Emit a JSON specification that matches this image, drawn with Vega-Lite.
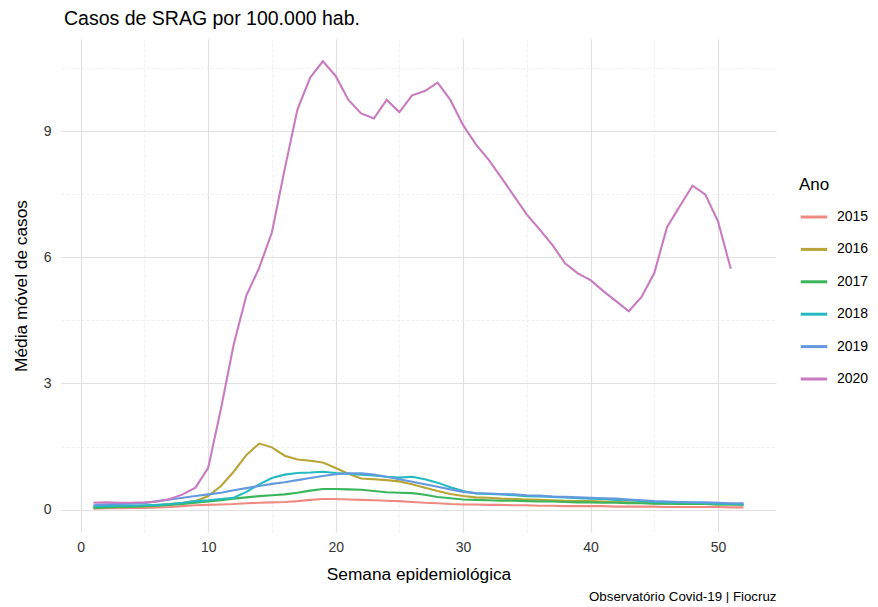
{
  "$schema": "https://vega.github.io/schema/vega-lite/v6.json",
  "width": 715,
  "height": 493,
  "padding": {"left": 12, "top": 8, "right": 5, "bottom": 0},
  "background": "white",
  "config": {
    "view": {"stroke": null},
    "font": "Liberation Sans"
  },
  "title": {
    "text": "Casos de SRAG por 100.000 hab.",
    "anchor": "start",
    "frame": "group",
    "dx": 3,
    "fontSize": 19.5,
    "fontWeight": "normal",
    "font": "Liberation Sans",
    "color": "#000000",
    "offset": 10
  },
  "data": {
    "values": [
      {"semana": 1, "2015": 0.02, "2016": 0.04, "2017": 0.04, "2018": 0.08, "2019": 0.10, "2020": 0.16},
      {"semana": 2, "2015": 0.03, "2016": 0.05, "2017": 0.05, "2018": 0.08, "2019": 0.12, "2020": 0.17},
      {"semana": 3, "2015": 0.03, "2016": 0.06, "2017": 0.06, "2018": 0.09, "2019": 0.13, "2020": 0.16},
      {"semana": 4, "2015": 0.04, "2016": 0.07, "2017": 0.07, "2018": 0.09, "2019": 0.14, "2020": 0.16},
      {"semana": 5, "2015": 0.04, "2016": 0.08, "2017": 0.08, "2018": 0.10, "2019": 0.15, "2020": 0.17},
      {"semana": 6, "2015": 0.05, "2016": 0.10, "2017": 0.09, "2018": 0.11, "2019": 0.20, "2020": 0.19},
      {"semana": 7, "2015": 0.06, "2016": 0.13, "2017": 0.11, "2018": 0.13, "2019": 0.24, "2020": 0.25},
      {"semana": 8, "2015": 0.08, "2016": 0.16, "2017": 0.13, "2018": 0.16, "2019": 0.28, "2020": 0.36},
      {"semana": 9, "2015": 0.10, "2016": 0.20, "2017": 0.16, "2018": 0.20, "2019": 0.32, "2020": 0.52},
      {"semana": 10, "2015": 0.11, "2016": 0.32, "2017": 0.19, "2018": 0.22, "2019": 0.36, "2020": 0.99},
      {"semana": 11, "2015": 0.12, "2016": 0.56, "2017": 0.22, "2018": 0.25, "2019": 0.40, "2020": 2.40},
      {"semana": 12, "2015": 0.13, "2016": 0.90, "2017": 0.26, "2018": 0.28, "2019": 0.46, "2020": 3.93},
      {"semana": 13, "2015": 0.15, "2016": 1.30, "2017": 0.29, "2018": 0.42, "2019": 0.51, "2020": 5.10},
      {"semana": 14, "2015": 0.16, "2016": 1.57, "2017": 0.32, "2018": 0.60, "2019": 0.56, "2020": 5.75},
      {"semana": 15, "2015": 0.17, "2016": 1.48, "2017": 0.34, "2018": 0.75, "2019": 0.61, "2020": 6.60},
      {"semana": 16, "2015": 0.18, "2016": 1.28, "2017": 0.36, "2018": 0.83, "2019": 0.65, "2020": 8.10},
      {"semana": 17, "2015": 0.20, "2016": 1.19, "2017": 0.40, "2018": 0.87, "2019": 0.70, "2020": 9.52},
      {"semana": 18, "2015": 0.23, "2016": 1.16, "2017": 0.45, "2018": 0.88, "2019": 0.75, "2020": 10.28},
      {"semana": 19, "2015": 0.25, "2016": 1.12, "2017": 0.49, "2018": 0.90, "2019": 0.80, "2020": 10.67},
      {"semana": 20, "2015": 0.25, "2016": 0.99, "2017": 0.49, "2018": 0.87, "2019": 0.84, "2020": 10.32},
      {"semana": 21, "2015": 0.24, "2016": 0.85, "2017": 0.48, "2018": 0.85, "2019": 0.86, "2020": 9.75},
      {"semana": 22, "2015": 0.23, "2016": 0.74, "2017": 0.47, "2018": 0.83, "2019": 0.86, "2020": 9.43},
      {"semana": 23, "2015": 0.22, "2016": 0.72, "2017": 0.44, "2018": 0.81, "2019": 0.83, "2020": 9.31},
      {"semana": 24, "2015": 0.21, "2016": 0.70, "2017": 0.41, "2018": 0.78, "2019": 0.78, "2020": 9.75},
      {"semana": 25, "2015": 0.20, "2016": 0.67, "2017": 0.40, "2018": 0.76, "2019": 0.72, "2020": 9.46},
      {"semana": 26, "2015": 0.18, "2016": 0.60, "2017": 0.39, "2018": 0.78, "2019": 0.66, "2020": 9.86},
      {"semana": 27, "2015": 0.16, "2016": 0.52, "2017": 0.35, "2018": 0.72, "2019": 0.60, "2020": 9.96},
      {"semana": 28, "2015": 0.15, "2016": 0.44, "2017": 0.30, "2018": 0.64, "2019": 0.54, "2020": 10.16},
      {"semana": 29, "2015": 0.13, "2016": 0.37, "2017": 0.27, "2018": 0.53, "2019": 0.48, "2020": 9.75},
      {"semana": 30, "2015": 0.12, "2016": 0.32, "2017": 0.24, "2018": 0.44, "2019": 0.42, "2020": 9.15},
      {"semana": 31, "2015": 0.12, "2016": 0.29, "2017": 0.23, "2018": 0.38, "2019": 0.39, "2020": 8.69},
      {"semana": 32, "2015": 0.11, "2016": 0.28, "2017": 0.22, "2018": 0.37, "2019": 0.38, "2020": 8.33},
      {"semana": 33, "2015": 0.11, "2016": 0.26, "2017": 0.21, "2018": 0.36, "2019": 0.37, "2020": 7.90},
      {"semana": 34, "2015": 0.10, "2016": 0.25, "2017": 0.21, "2018": 0.34, "2019": 0.36, "2020": 7.46},
      {"semana": 35, "2015": 0.10, "2016": 0.24, "2017": 0.20, "2018": 0.32, "2019": 0.34, "2020": 7.02},
      {"semana": 36, "2015": 0.09, "2016": 0.23, "2017": 0.19, "2018": 0.31, "2019": 0.33, "2020": 6.67},
      {"semana": 37, "2015": 0.09, "2016": 0.22, "2017": 0.19, "2018": 0.30, "2019": 0.31, "2020": 6.30},
      {"semana": 38, "2015": 0.08, "2016": 0.21, "2017": 0.18, "2018": 0.29, "2019": 0.30, "2020": 5.86},
      {"semana": 39, "2015": 0.08, "2016": 0.20, "2017": 0.17, "2018": 0.27, "2019": 0.29, "2020": 5.62},
      {"semana": 40, "2015": 0.08, "2016": 0.20, "2017": 0.17, "2018": 0.26, "2019": 0.28, "2020": 5.46},
      {"semana": 41, "2015": 0.08, "2016": 0.19, "2017": 0.16, "2018": 0.25, "2019": 0.27, "2020": 5.20},
      {"semana": 42, "2015": 0.07, "2016": 0.18, "2017": 0.16, "2018": 0.23, "2019": 0.26, "2020": 4.96},
      {"semana": 43, "2015": 0.07, "2016": 0.17, "2017": 0.15, "2018": 0.22, "2019": 0.24, "2020": 4.72},
      {"semana": 44, "2015": 0.07, "2016": 0.16, "2017": 0.15, "2018": 0.20, "2019": 0.22, "2020": 5.06},
      {"semana": 45, "2015": 0.07, "2016": 0.15, "2017": 0.14, "2018": 0.18, "2019": 0.20, "2020": 5.63},
      {"semana": 46, "2015": 0.06, "2016": 0.14, "2017": 0.14, "2018": 0.17, "2019": 0.19, "2020": 6.72},
      {"semana": 47, "2015": 0.06, "2016": 0.14, "2017": 0.13, "2018": 0.17, "2019": 0.18, "2020": 7.22},
      {"semana": 48, "2015": 0.06, "2016": 0.13, "2017": 0.13, "2018": 0.16, "2019": 0.17, "2020": 7.71},
      {"semana": 49, "2015": 0.06, "2016": 0.13, "2017": 0.13, "2018": 0.15, "2019": 0.17, "2020": 7.50},
      {"semana": 50, "2015": 0.06, "2016": 0.12, "2017": 0.12, "2018": 0.14, "2019": 0.16, "2020": 6.86},
      {"semana": 51, "2015": 0.05, "2016": 0.12, "2017": 0.12, "2018": 0.13, "2019": 0.15, "2020": 5.73},
      {"semana": 52, "2015": 0.05, "2016": 0.11, "2017": 0.12, "2018": 0.12, "2019": 0.15, "2020": null}
    ]
  },
  "transform": [
    {"fold": ["2015", "2016", "2017", "2018", "2019", "2020"], "as": ["Ano", "casos"]},
    {"filter": "datum.casos != null"}
  ],
  "layer": [
    {
      "mark": {"type": "line", "strokeWidth": 2.1},
      "encoding": {
        "x": {
          "field": "semana",
          "type": "quantitative",
          "scale": {"domain": [-1.55, 54.55], "nice": false, "zero": false},
          "axis": {
            "orient": "bottom",
            "title": "Semana epidemiológica",
            "values": [0, 5, 10, 15, 20, 25, 30, 35, 40, 45, 50],
            "labelExpr": "datum.value % 10 === 0 ? datum.label : ''",
            "labelFontSize": 14,
            "labelColor": "#333333",
            "labelPadding": 8,
            "titleFontSize": 17.3,
            "titleFontWeight": "normal",
            "titleColor": "#000000",
            "titlePadding": 11,
            "ticks": false,
            "domain": false,
            "grid": true,
            "gridColor": {"condition": {"test": "datum.value % 10 !== 0", "value": "#EBEBEB"}, "value": "#E0E0E0"},
            "gridWidth": {"condition": {"test": "datum.value % 10 !== 0", "value": 0.8}, "value": 1.2},
            "gridDash": {"condition": {"test": "datum.value % 10 !== 0", "value": [3, 2]}, "value": []}
          }
        },
        "y": {
          "field": "casos",
          "type": "quantitative",
          "scale": {"domain": [-0.535, 11.2], "nice": false, "zero": false},
          "axis": {
            "title": "Média móvel de casos",
            "values": [0, 1.5, 3, 4.5, 6, 7.5, 9, 10.5],
            "labelExpr": "datum.value % 3 === 0 ? datum.label : ''",
            "labelFontSize": 14,
            "labelColor": "#333333",
            "labelPadding": 10,
            "titleFontSize": 17.3,
            "titleFontWeight": "normal",
            "titleColor": "#000000",
            "titlePadding": 13,
            "ticks": false,
            "domain": false,
            "grid": true,
            "gridColor": {"condition": {"test": "datum.value % 3 !== 0", "value": "#EBEBEB"}, "value": "#E0E0E0"},
            "gridWidth": {"condition": {"test": "datum.value % 3 !== 0", "value": 0.8}, "value": 1.2},
            "gridDash": {"condition": {"test": "datum.value % 3 !== 0", "value": [3, 2]}, "value": []}
          }
        },
        "color": {
          "field": "Ano",
          "type": "nominal",
          "scale": {
            "domain": ["2015", "2016", "2017", "2018", "2019", "2020"],
            "range": ["#EE8A82", "#B8A437", "#3BB55B", "#25BAC2", "#6499DD", "#C97BC2"]
          },
          "legend": {
            "title": "Ano",
            "orient": "none",
            "legendX": 738,
            "legendY": 138,
            "symbolType": "stroke",
            "symbolSize": 700,
            "symbolStrokeWidth": 3,
            "labelFontSize": 14,
            "labelColor": "#000000",
            "labelOffset": 8,
            "titleFontSize": 17,
            "titleFontWeight": "normal",
            "titleColor": "#000000",
            "titlePadding": 8,
            "rowPadding": 10.4
          }
        }
      }
    },
    {
      "mark": {"type": "rule", "strokeOpacity": 0},
      "encoding": {
        "x": {
          "field": "semana",
          "type": "quantitative",
          "axis": {
            "orient": "bottom",
            "offset": 57,
            "title": "Observatório Covid-19 | Fiocruz",
            "titleAnchor": "end",
            "titleFontSize": 13.3,
            "titleFontWeight": "normal",
            "titleColor": "#000000",
            "titlePadding": 0,
            "labels": false,
            "ticks": false,
            "domain": false,
            "grid": false
          }
        }
      }
    }
  ],
  "resolve": {"axis": {"x": "independent"}}
}
